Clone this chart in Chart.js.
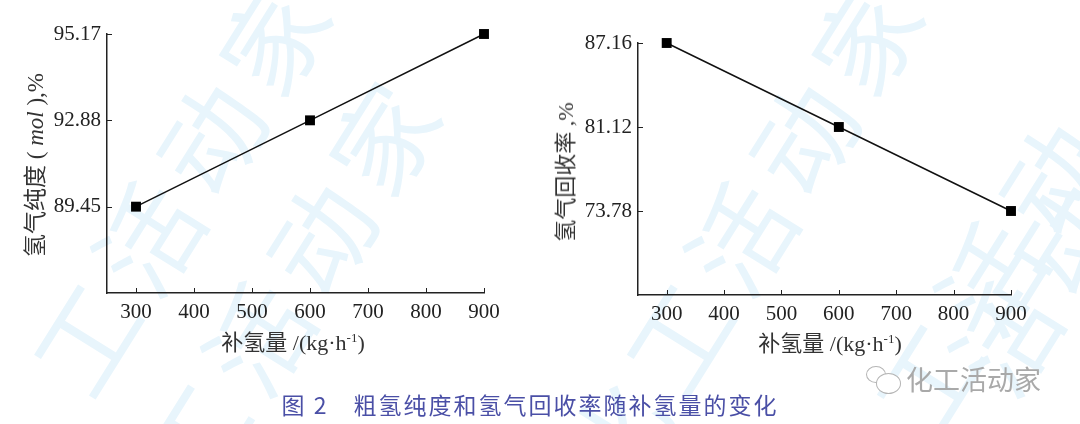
<!DOCTYPE html>
<html>
<head>
<meta charset="utf-8">
<script src="https://cdn.jsdelivr.net/npm/chart.js@4"></script>
<style>
  html, body { margin:0; padding:0; background:#fff; }
  #wrap { position:relative; width:1080px; height:424px; overflow:hidden; background:#fff; }
  .wm { position:absolute; font-family:"Noto Sans CJK SC", sans-serif; font-size:104px; color:#e8f5fc;
        white-space:nowrap; transform-origin:0 0; letter-spacing:14px; z-index:0; }
  .box { position:absolute; top:0; width:540px; height:360px; z-index:1; }
  .ytitle { position:absolute; z-index:2; white-space:nowrap; color:#333;
            font-family:"Liberation Serif", "Noto Sans CJK SC", serif; font-size:23px;
            transform:translate(-50%,-50%) rotate(-90deg); }
  .xtitle { position:absolute; z-index:2; white-space:nowrap; color:#333;
            font-family:"Liberation Serif", "Noto Sans CJK SC", serif; font-size:22px;
            transform:translate(-50%,-50%); }
  .xtitle sup { font-size:13px; vertical-align:8px; }
  #caption { position:absolute; left:530px; top:404px; transform:translate(-50%,-50%); z-index:2;
             font-family:"Noto Sans CJK SC", serif; font-size:23px; color:#4a4fa6; white-space:nowrap;
             letter-spacing:2px; }
  #brand { position:absolute; left:906px; top:378px; transform:translateY(-50%); z-index:2;
           font-family:"Noto Sans CJK SC", sans-serif; font-size:27px; color:#a9a9a9; white-space:nowrap; }
  .bub { position:absolute; border:1.5px solid #b5b5b5; border-radius:50%; background:#fff; z-index:2; }
</style>
</head>
<body>
<div id="wrap">
  <div class="wm" style="left:-10px;top:340px;transform:rotate(-58deg)">工活动家</div>
  <div class="wm" style="left:100px;top:440px;transform:rotate(-58deg)">工活动家</div>
  <div class="wm" style="left:520px;top:440px;transform:rotate(-58deg)">化工活动家</div>
  <div class="wm" style="left:770px;top:480px;transform:rotate(-58deg)">化工活动</div>
  <div class="wm" style="left:910px;top:340px;transform:rotate(-58deg)">活动家</div>

  <div class="box" style="left:0"><canvas id="chartPurity" width="540" height="360"></canvas></div>
  <div class="box" style="left:540px"><canvas id="chartRecovery" width="540" height="360"></canvas></div>

  <div class="ytitle" style="left:33px;top:165px">氢气纯度 ( <i>mol</i> ),%</div>
  <div class="ytitle" style="left:563px;top:172px;font-size:22px">氢气回收率 ,%</div>
  <div class="xtitle" style="left:293px;top:340px">补氢量 /(kg·h<sup>-1</sup>)</div>
  <div class="xtitle" style="left:830px;top:341px">补氢量 /(kg·h<sup>-1</sup>)</div>

  <div class="bub" style="left:866px;top:366px;width:18px;height:15px"></div>
  <div class="bub" style="left:876px;top:373px;width:23px;height:19px"></div>
  <div id="brand">化工活动家</div>
  <div id="caption">图 2　粗氢纯度和氢气回收率随补氢量的变化</div>
</div>

<script>
// ============= DATA =============
const feedRates = [300, 600, 900];               // 补氢量, kg/h
const purityVals = [89.45, 92.88, 95.17];        // 氢气纯度, %
const recoveryVals = [87.16, 81.12, 73.78];      // 氢气回收率, %
const xTicks = [300, 400, 500, 600, 700, 800, 900];
const purityTicks = ['95.17', '92.88', '89.45', ''];
const recoveryTicks = ['87.16', '81.12', '73.78', ''];

const INK = '#222';
const TICK_FONT = { family: "'Liberation Serif', 'Times New Roman', serif", size: 21 };

// short tick marks pointing into the plot, like the printed figure
const innerTicks = {
  id: 'innerTicks',
  afterDraw(chart) {
    const { ctx, chartArea, scales: { x, y } } = chart;
    ctx.save();
    ctx.strokeStyle = INK;
    ctx.lineWidth = 1;
    ctx.beginPath();
    x.ticks.forEach(t => {
      const px = Math.round(x.getPixelForValue(t.value)) + 0.5;
      ctx.moveTo(px, chartArea.bottom);
      ctx.lineTo(px, chartArea.bottom - 5);
    });
    y.ticks.forEach((t, i) => {
      if (!t.label) return;
      const py = Math.round(y.getPixelForTick(i)) + 0.5;
      ctx.moveTo(chartArea.left, py);
      ctx.lineTo(chartArea.left + 5, py);
    });
    ctx.stroke();
    ctx.restore();
  }
};

function drawPanel(id, vals, yLabels, box) {
  const ctx = document.getElementById(id);
  return new Chart(ctx, {
    type: 'line',
    data: {
      datasets: [{
        data: feedRates.map((r, i) => ({ x: r, y: vals[i].toFixed(2) })),
        borderColor: '#111',
        borderWidth: 1.5,
        tension: 0,
        pointStyle: 'rect',
        pointRadius: 7,
        pointBackgroundColor: '#000',
        pointBorderColor: '#000',
        pointBorderWidth: 0,
        clip: false
      }]
    },
    options: {
      responsive: false,
      animation: false,
      layout: { padding: { left: box.left, top: box.top, right: box.right, bottom: 0 } },
      plugins: { legend: { display: false }, tooltip: { enabled: false } },
      scales: {
        x: {
          type: 'linear',
          min: 250,
          max: 900,
          grid: { display: false, drawTicks: false, tickLength: 0 },
          border: { display: true, color: INK, width: 1.5 },
          afterBuildTicks: s => { s.ticks = xTicks.map(v => ({ value: v })); },
          afterFit: s => { s.height = 360 - box.bottom; },
          ticks: { color: INK, font: TICK_FONT, padding: 7, maxRotation: 0 }
        },
        y: {
          type: 'category',
          labels: yLabels,
          offset: false,
          grid: { display: false, drawTicks: false, tickLength: 0 },
          border: { display: true, color: INK, width: 1.5 },
          afterFit: s => { s.width = box.yWidth; },
          ticks: { color: INK, font: TICK_FONT, padding: 6, autoSkip: false }
        }
      }
    },
    plugins: [innerTicks]
  });
}

drawPanel('chartPurity', purityVals, purityTicks, { left: 20, yWidth: 87, top: 34, right: 56, bottom: 293 });
drawPanel('chartRecovery', recoveryVals, recoveryTicks, { left: 11, yWidth: 87, top: 43, right: 69, bottom: 295 });
</script>
</body>
</html>
